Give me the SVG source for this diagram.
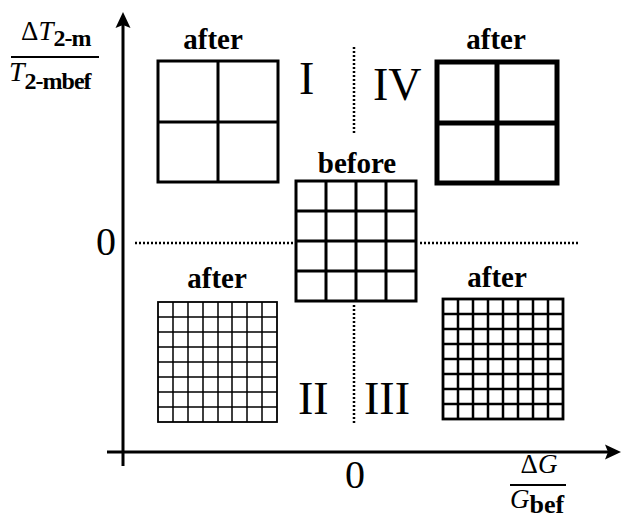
<svg xmlns="http://www.w3.org/2000/svg" width="621" height="520" viewBox="0 0 621 520">
<style>
.ax{stroke:#000;stroke-width:3;fill:none}
.dot{stroke:#000;stroke-width:2.5;stroke-dasharray:2,2;fill:none}
.g{fill:none;stroke:#000}
.lbl{font-family:"Liberation Serif","Times New Roman",serif;font-weight:bold;font-size:29px;text-anchor:middle;fill:#000}
.rom{font-family:"Liberation Serif","Times New Roman",serif;font-size:46px;fill:#000}
.zero{font-family:"Liberation Serif","Times New Roman",serif;font-size:40px;fill:#000}
.m{font-family:"Liberation Serif","Times New Roman",serif;fill:#000}
.it{font-style:italic}
.b{font-weight:bold}
</style>
<rect width="621" height="520" fill="#fff"/>
<g id="connectors">
<line class="ax" x1="123" y1="466" x2="123" y2="24"/>
<polygon points="123,12 115.5,28 123,25 130.5,28" fill="#000"/>
<line class="ax" x1="107" y1="452" x2="610" y2="452"/>
<polygon points="621,452 605,444.5 608,452 605,459.5" fill="#000"/>
<line class="dot" x1="135" y1="243" x2="293" y2="243"/>
<line class="dot" x1="420" y1="243" x2="580" y2="243"/>
<line class="dot" x1="354" y1="47" x2="354" y2="135"/>
<line class="dot" x1="354" y1="305" x2="354" y2="425"/>
</g>
<g id="ylabel">
<text class="m" x="21" y="40" font-size="27">Δ<tspan class="it">T</tspan><tspan class="b" font-size="24" dy="6" letter-spacing="-1">2-m</tspan></text>
<line x1="11" y1="57" x2="99" y2="57" stroke="#000" stroke-width="2"/>
<text class="m" x="9" y="81" font-size="28"><tspan class="it">T</tspan><tspan class="b" font-size="24" dy="8" letter-spacing="-1">2-mbef</tspan></text>
</g>
<g id="xlabel">
<text class="m" x="539" y="473" font-size="27" text-anchor="middle">Δ<tspan class="it">G</tspan></text>
<line x1="510" y1="485" x2="566" y2="485" stroke="#000" stroke-width="2"/>
<text class="m" x="510" y="508" font-size="27"><tspan class="it">G</tspan><tspan class="b" font-size="26" dy="5">bef</tspan></text>
</g>
<g id="zeros">
<text class="zero" x="96" y="255">0</text>
<text class="zero" x="345" y="488">0</text>
</g>
<g id="quadrants">
<text class="rom" x="299" y="94">I</text>
<text class="rom" x="373" y="100">IV</text>
<text class="rom" x="298" y="414">II</text>
<text class="rom" x="364" y="414">III</text>
</g>
<g id="node-I">
<text class="lbl" x="213" y="49">after</text>
<rect class="g" stroke-width="3" x="158" y="61" width="120" height="121"/>
<path class="g" stroke-width="3" d="M218,61V182M158,122H278"/>
</g>
<g id="node-IV">
<text class="lbl" x="496" y="49">after</text>
<rect class="g" stroke-width="5" x="437" y="62" width="120" height="121"/>
<path class="g" stroke-width="5" d="M497,62V183M437,123H557"/>
</g>
<g id="node-before">
<text class="lbl" x="357" y="173">before</text>
<rect class="g" stroke-width="3" x="296" y="181" width="120" height="120"/>
<path class="g" stroke-width="3" d="M326,181V301M356,181V301M386,181V301M296,211H416M296,241H416M296,271H416"/>
</g>
<g id="node-II">
<text class="lbl" x="217" y="288">after</text>
<rect class="g" stroke-width="1.8" x="158" y="302" width="119" height="120"/>
<path class="g" stroke-width="1.5" d="M173,302V422M188,302V422M203,302V422M218,302V422M232,302V422M247,302V422M262,302V422M158,317H277M158,332H277M158,347H277M158,362H277M158,377H277M158,392H277M158,407H277"/>
</g>
<g id="node-III">
<text class="lbl" x="497" y="287">after</text>
<rect class="g" stroke-width="2.8" x="443" y="299" width="120" height="120"/>
<path class="g" stroke-width="2.5" d="M458,299V419M473,299V419M488,299V419M503,299V419M518,299V419M533,299V419M548,299V419M443,314H563M443,329H563M443,344H563M443,359H563M443,374H563M443,389H563M443,404H563"/>
</g>
</svg>
